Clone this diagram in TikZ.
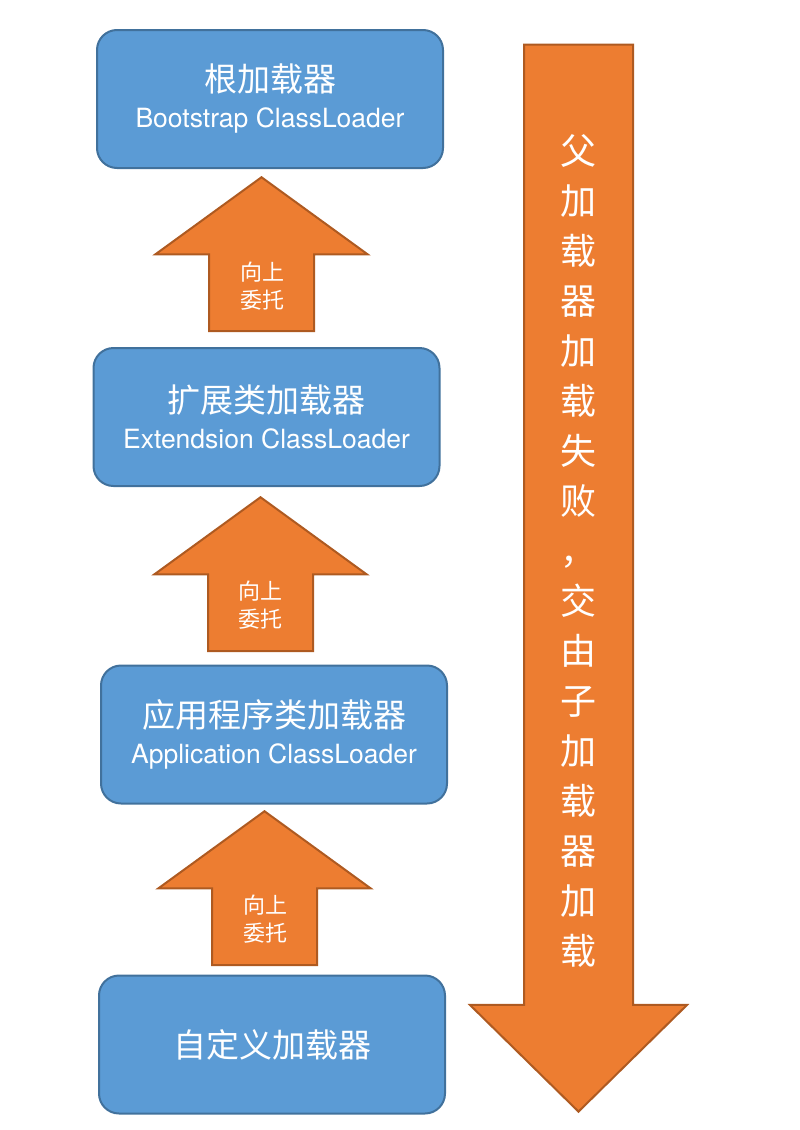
\documentclass[tikz,border=0pt]{standalone}
\usepackage{fontspec}
\usetikzlibrary{shapes.arrows}
\newfontfamily\cjk{Noto Sans CJK SC}
\newfontfamily\enfont{TeX Gyre Heros}
\definecolor{loaderblue}{HTML}{5B9BD5}
\definecolor{loaderedge}{HTML}{41719C}
\definecolor{arroworange}{HTML}{ED7D31}
\definecolor{arrowedge}{HTML}{AE5A21}

\begin{document}
\begin{tikzpicture}[x=1pt,y=-1pt]
          \tikzstyle{loader}=[draw=loaderedge,fill=loaderblue,line width=2pt,rounded corners=20pt,
                              minimum width=346pt,minimum height=138pt,text=white,align=center,
                              font=\cjk\fontsize{33}{36}\selectfont]
          \tikzstyle{delegate}=[single arrow,shape border rotate=90,draw=arrowedge,fill=arroworange,
                                line width=2pt,inner xsep=51.5pt,inner ysep=0pt,
                                single arrow head extend=53.5pt,single arrow tip angle=108,
                                minimum height=154pt,anchor=tip]
          \tikzstyle{delegatetext}=[text=white,align=center,font=\cjk\fontsize{22}{28}\selectfont]
          \useasboundingbox (0,0) rectangle (800,1130);

          \node[loader] (boot) at (270,99)   {根加载器\\{\enfont\fontsize{26.5}{36}\selectfont Bootstrap ClassLoader}};
          \node[loader] (ext)  at (266.5,417) {扩展类加载器\\{\enfont\fontsize{26.5}{36}\selectfont Extendsion ClassLoader}};
          \node[loader] (app)  at (274,734.5) {应用程序类加载器\\{\enfont\fontsize{26.5}{36}\selectfont Application ClassLoader}};
          \node[loader] (cust) at (272,1044.5) {自定义加载器};

          \node[delegate] (up1) at (261.5,176) {};
          \node[delegate] (up2) at (260.5,496) {};
          \node[delegate] (up3) at (264.5,810) {};
          \node[delegatetext] (up1text) at (262,286) {向上\\委托};
          \node[delegatetext] (up2text) at (260,605) {向上\\委托};
          \node[delegatetext] (up3text) at (265,919) {向上\\委托};

          \node[single arrow,shape border rotate=270,draw=arrowedge,fill=arroworange,line width=2pt,
                inner xsep=53.5pt,inner ysep=0pt,single arrow head extend=54pt,single arrow tip angle=91,
                minimum height=1067pt,anchor=tip] (fail) at (578.5,1113) {};
          \node[text=white,align=center,font=\cjk\fontsize{36}{50}\selectfont] (failtext) at (578.5,551)
                {父\\加\\载\\器\\加\\载\\失\\败\\，\\交\\由\\子\\加\\载\\器\\加\\载};
\end{tikzpicture}
\end{document}
